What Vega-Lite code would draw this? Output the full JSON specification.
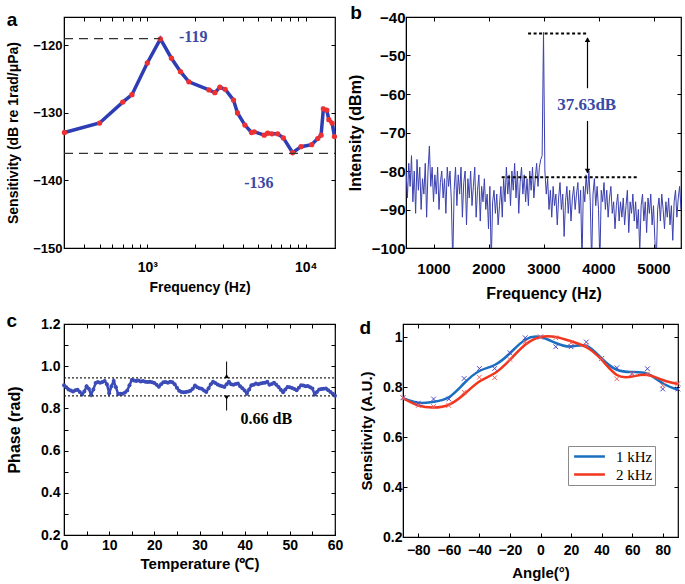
{
"$schema": "https://vega.github.io/schema/vega-lite/v6.json",
"padding": {"left": 5, "top": 3, "right": 2, "bottom": 0},
"background": "white",
"config": {
  "font": "Liberation Sans",
  "view": {"stroke": "black", "strokeWidth": 1.2},
  "axis": {"domainColor": "black", "tickColor": "black", "labelColor": "black", "titleColor": "black", "labelFontWeight": "bold", "titleFontWeight": "bold", "grid": false, "tickSize": -4, "labelFont": "Liberation Sans", "titleFont": "Liberation Sans", "labelOverlap": false, "labelFlush": false},
  "title": {"anchor": "start", "frame": "bounds", "fontSize": 19, "fontWeight": "bold", "font": "Liberation Sans", "color": "black"}
},
"datasets": {
  "sens": [
    {"f":300,"s":-132.9},{"f":500,"s":-131.5},{"f":700,"s":-128.4},{"f":800,"s":-127.3},{"f":1000,"s":-122.6},{"f":1210,"s":-119.05},{"f":1420,"s":-121.9},{"f":1620,"s":-123.9},{"f":1830,"s":-125.4},{"f":2450,"s":-126.6},{"f":2670,"s":-127.0},{"f":2870,"s":-126.2},{"f":3100,"s":-126.5},{"f":3500,"s":-128.1},{"f":3710,"s":-130.0},{"f":4130,"s":-131.8},{"f":4550,"s":-132.9},{"f":4730,"s":-132.8},{"f":5470,"s":-133.3},{"f":5750,"s":-133.0},{"f":6120,"s":-133.1},{"f":6650,"s":-133.1},{"f":7220,"s":-133.7},{"f":8270,"s":-135.9},{"f":9340,"s":-135.0},{"f":10900,"s":-134.7},{"f":11900,"s":-133.8},{"f":12500,"s":-133.3},{"f":12920,"s":-129.4},{"f":13580,"s":-129.6},{"f":13990,"s":-131.0},{"f":14670,"s":-131.5},{"f":15180,"s":-133.5}
  ],
  "sensRef": [
    {"f1":298,"f2":1210,"s":-119},{"f1":298,"f2":15300,"s":-136}
  ],
  "sensText": [
    {"f":1950,"s":-118.7,"t":"-119"},{"f":5060,"s":-140.4,"t":"-136"}
  ],
  "spec": [
    {"f":500,"v":-80},{"f":525,"v":-87},{"f":550,"v":-78},{"f":575,"v":-84},{"f":600,"v":-76},{"f":625,"v":-88},{"f":650,"v":-80},{"f":675,"v":-91},{"f":700,"v":-77},{"f":725,"v":-85},{"f":750,"v":-79},{"f":775,"v":-90},{"f":800,"v":-82},{"f":825,"v":-86},{"f":850,"v":-78},{"f":875,"v":-92},{"f":900,"v":-80},{"f":925,"v":-73.5},{"f":950,"v":-84},{"f":975,"v":-79},
    {"f":1000,"v":-88},{"f":1025,"v":-81},{"f":1050,"v":-86},{"f":1075,"v":-79},{"f":1100,"v":-90},{"f":1125,"v":-83},{"f":1150,"v":-80},{"f":1175,"v":-87},{"f":1200,"v":-82},{"f":1225,"v":-91},{"f":1250,"v":-79},{"f":1275,"v":-84},{"f":1300,"v":-80},{"f":1325,"v":-88},{"f":1350,"v":-104},{"f":1375,"v":-85},{"f":1400,"v":-79},{"f":1425,"v":-89},{"f":1450,"v":-81},{"f":1475,"v":-86},
    {"f":1500,"v":-79},{"f":1525,"v":-92},{"f":1550,"v":-83},{"f":1575,"v":-80},{"f":1600,"v":-94},{"f":1625,"v":-82},{"f":1650,"v":-87},{"f":1675,"v":-80},{"f":1700,"v":-89},{"f":1725,"v":-84},{"f":1750,"v":-79},{"f":1775,"v":-92},{"f":1800,"v":-85},{"f":1825,"v":-81},{"f":1850,"v":-93},{"f":1875,"v":-84},{"f":1900,"v":-88},{"f":1925,"v":-82},{"f":1950,"v":-90},{"f":1975,"v":-86},
    {"f":2000,"v":-95},{"f":2025,"v":-84},{"f":2050,"v":-104},{"f":2075,"v":-88},{"f":2100,"v":-85},{"f":2125,"v":-91},{"f":2150,"v":-86},{"f":2175,"v":-94},{"f":2200,"v":-89},{"f":2225,"v":-84},{"f":2250,"v":-92},{"f":2275,"v":-82},{"f":2300,"v":-88},{"f":2325,"v":-79},{"f":2350,"v":-86},{"f":2375,"v":-81},{"f":2400,"v":-89},{"f":2425,"v":-80},{"f":2450,"v":-85},{"f":2475,"v":-78},
    {"f":2500,"v":-87},{"f":2525,"v":-80},{"f":2550,"v":-91},{"f":2575,"v":-83},{"f":2600,"v":-79},{"f":2625,"v":-86},{"f":2650,"v":-81},{"f":2675,"v":-88},{"f":2700,"v":-82},{"f":2725,"v":-89},{"f":2750,"v":-80},{"f":2775,"v":-85},{"f":2800,"v":-79},{"f":2825,"v":-87},{"f":2850,"v":-82},{"f":2875,"v":-78},{"f":2900,"v":-84},{"f":2925,"v":-79},{"f":2950,"v":-77},{"f":2975,"v":-76},
    {"f":3000,"v":-44},{"f":3025,"v":-80},{"f":3050,"v":-86},{"f":3075,"v":-82},{"f":3100,"v":-90},{"f":3125,"v":-85},{"f":3150,"v":-92},{"f":3175,"v":-84},{"f":3200,"v":-89},{"f":3225,"v":-86},{"f":3250,"v":-94},{"f":3275,"v":-87},{"f":3300,"v":-83},{"f":3325,"v":-90},{"f":3350,"v":-86},{"f":3375,"v":-97},{"f":3400,"v":-88},{"f":3425,"v":-84},{"f":3450,"v":-91},{"f":3475,"v":-85},
    {"f":3500,"v":-93},{"f":3525,"v":-87},{"f":3550,"v":-84},{"f":3575,"v":-90},{"f":3600,"v":-86},{"f":3625,"v":-83},{"f":3650,"v":-91},{"f":3675,"v":-85},{"f":3700,"v":-104},{"f":3725,"v":-84},{"f":3750,"v":-88},{"f":3775,"v":-81},{"f":3800,"v":-86},{"f":3825,"v":-80},{"f":3850,"v":-88},{"f":3875,"v":-104},{"f":3900,"v":-86},{"f":3925,"v":-82},{"f":3950,"v":-89},{"f":3975,"v":-84},
    {"f":4000,"v":-90},{"f":4025,"v":-104},{"f":4050,"v":-85},{"f":4075,"v":-88},{"f":4100,"v":-83},{"f":4125,"v":-90},{"f":4150,"v":-85},{"f":4175,"v":-92},{"f":4200,"v":-87},{"f":4225,"v":-84},{"f":4250,"v":-91},{"f":4275,"v":-88},{"f":4300,"v":-95},{"f":4325,"v":-89},{"f":4350,"v":-86},{"f":4375,"v":-93},{"f":4400,"v":-88},{"f":4425,"v":-92},{"f":4450,"v":-87},{"f":4475,"v":-94},
    {"f":4500,"v":-89},{"f":4525,"v":-85},{"f":4550,"v":-96},{"f":4575,"v":-88},{"f":4600,"v":-91},{"f":4625,"v":-86},{"f":4650,"v":-93},{"f":4675,"v":-88},{"f":4700,"v":-95},{"f":4725,"v":-90},{"f":4750,"v":-101},{"f":4775,"v":-89},{"f":4800,"v":-86},{"f":4825,"v":-93},{"f":4850,"v":-88},{"f":4875,"v":-96},{"f":4900,"v":-87},{"f":4925,"v":-91},{"f":4950,"v":-86},{"f":4975,"v":-94},
    {"f":5000,"v":-89},{"f":5025,"v":-98},{"f":5050,"v":-104},{"f":5075,"v":-90},{"f":5100,"v":-87},{"f":5125,"v":-93},{"f":5150,"v":-86},{"f":5175,"v":-90},{"f":5200,"v":-95},{"f":5225,"v":-88},{"f":5250,"v":-92},{"f":5275,"v":-87},{"f":5300,"v":-94},{"f":5325,"v":-89},{"f":5350,"v":-98},{"f":5375,"v":-88},{"f":5400,"v":-85},{"f":5425,"v":-92},{"f":5450,"v":-87},{"f":5475,"v":-84},{"f":5500,"v":-90}
  ],
  "specRef": [
    {"f1":2720,"f2":3820,"v":-44.3},{"f1":2240,"f2":4700,"v":-81.6}
  ],
  "specArrow": [
    {"f":3800,"v1":-45.5,"v2":-58.5},{"f":3800,"v1":-67,"v2":-80.5}
  ],
  "specHead": [
    {"f":3800,"v":-45.9,"end":"top"},{"f":3800,"v":-80.0,"end":"bottom"}
  ],
  "specText": [
    {"f":3785,"v":-62.8,"t":"37.63dB"}
  ],
  "phase": [
    {"t":0,"p":0.910},{"t":0.5,"p":0.900},{"t":1,"p":0.890},{"t":1.5,"p":0.885},{"t":2,"p":0.880},{"t":2.5,"p":0.886},{"t":3,"p":0.888},{"t":3.5,"p":0.878},{"t":4,"p":0.866},{"t":4.5,"p":0.880},
    {"t":5,"p":0.905},{"t":5.5,"p":0.893},{"t":6,"p":0.865},{"t":6.5,"p":0.890},{"t":7,"p":0.920},{"t":7.5,"p":0.925},{"t":8,"p":0.922},{"t":8.5,"p":0.925},{"t":9,"p":0.930},{"t":9.5,"p":0.915},
    {"t":10,"p":0.872},{"t":10.5,"p":0.905},{"t":11,"p":0.930},{"t":11.5,"p":0.900},{"t":12,"p":0.868},{"t":12.5,"p":0.870},{"t":13,"p":0.870},{"t":13.5,"p":0.875},{"t":14,"p":0.885},{"t":14.5,"p":0.910},
    {"t":15,"p":0.935},{"t":15.5,"p":0.932},{"t":16,"p":0.930},{"t":16.5,"p":0.932},{"t":17,"p":0.928},{"t":17.5,"p":0.930},{"t":18,"p":0.926},{"t":18.5,"p":0.925},{"t":19,"p":0.926},{"t":19.5,"p":0.924},
    {"t":20,"p":0.920},{"t":20.5,"p":0.912},{"t":21,"p":0.903},{"t":21.5,"p":0.915},{"t":22,"p":0.924},{"t":22.5,"p":0.925},{"t":23,"p":0.922},{"t":23.5,"p":0.926},{"t":24,"p":0.924},{"t":24.5,"p":0.915},
    {"t":25,"p":0.898},{"t":25.5,"p":0.884},{"t":26,"p":0.878},{"t":26.5,"p":0.877},{"t":27,"p":0.878},{"t":27.5,"p":0.880},{"t":28,"p":0.884},{"t":28.5,"p":0.893},{"t":29,"p":0.908},{"t":29.5,"p":0.900},
    {"t":30,"p":0.896},{"t":30.5,"p":0.893},{"t":31,"p":0.885},{"t":31.5,"p":0.878},{"t":32,"p":0.895},{"t":32.5,"p":0.915},{"t":33,"p":0.926},{"t":33.5,"p":0.920},{"t":34,"p":0.913},{"t":34.5,"p":0.908},
    {"t":35,"p":0.905},{"t":35.5,"p":0.902},{"t":36,"p":0.915},{"t":36.5,"p":0.926},{"t":37,"p":0.915},{"t":37.5,"p":0.912},{"t":38,"p":0.916},{"t":38.5,"p":0.918},{"t":39,"p":0.905},{"t":39.5,"p":0.895},
    {"t":40,"p":0.885},{"t":40.5,"p":0.870},{"t":41,"p":0.890},{"t":41.5,"p":0.910},{"t":42,"p":0.912},{"t":42.5,"p":0.918},{"t":43,"p":0.915},{"t":43.5,"p":0.918},{"t":44,"p":0.920},{"t":44.5,"p":0.922},
    {"t":45,"p":0.926},{"t":45.5,"p":0.912},{"t":46,"p":0.916},{"t":46.5,"p":0.922},{"t":47,"p":0.912},{"t":47.5,"p":0.902},{"t":48,"p":0.888},{"t":48.5,"p":0.876},{"t":49,"p":0.890},{"t":49.5,"p":0.902},
    {"t":50,"p":0.900},{"t":50.5,"p":0.897},{"t":51,"p":0.892},{"t":51.5,"p":0.886},{"t":52,"p":0.898},{"t":52.5,"p":0.910},{"t":53,"p":0.908},{"t":53.5,"p":0.905},{"t":54,"p":0.906},{"t":54.5,"p":0.900},
    {"t":55,"p":0.894},{"t":55.5,"p":0.866},{"t":56,"p":0.878},{"t":56.5,"p":0.890},{"t":57,"p":0.892},{"t":57.5,"p":0.893},{"t":58,"p":0.894},{"t":58.5,"p":0.886},{"t":59,"p":0.878},{"t":59.5,"p":0.870},{"t":60,"p":0.860}
  ],
  "phaseRef": [
    {"t1":0,"t2":60,"p":0.945},{"t1":0,"t2":60,"p":0.859}
  ],
  "phaseArrow": [
    {"t":36,"p1":1.022,"p2":0.955},{"t":36,"p1":0.79,"p2":0.85}
  ],
  "phaseHead": [
    {"t":36,"p":0.953,"end":"top"},{"t":36,"p":0.851,"end":"bottom"}
  ],
  "phaseText": [
    {"t":44.8,"p":0.751,"s":"0.66 dB"}
  ],
  "curve": [
    {"a":-90,"v":0.755,"k":"1 kHz"},{"a":-80,"v":0.737,"k":"1 kHz"},{"a":-70,"v":0.741,"k":"1 kHz"},{"a":-60,"v":0.759,"k":"1 kHz"},{"a":-50,"v":0.815,"k":"1 kHz"},{"a":-40,"v":0.864,"k":"1 kHz"},{"a":-30,"v":0.888,"k":"1 kHz"},{"a":-20,"v":0.935,"k":"1 kHz"},{"a":-10,"v":0.989,"k":"1 kHz"},{"a":0,"v":1.0,"k":"1 kHz"},{"a":10,"v":0.976,"k":"1 kHz"},{"a":20,"v":0.962,"k":"1 kHz"},{"a":30,"v":0.965,"k":"1 kHz"},{"a":40,"v":0.914,"k":"1 kHz"},{"a":50,"v":0.869,"k":"1 kHz"},{"a":60,"v":0.86,"k":"1 kHz"},{"a":70,"v":0.853,"k":"1 kHz"},{"a":80,"v":0.815,"k":"1 kHz"},{"a":90,"v":0.788,"k":"1 kHz"},
    {"a":-90,"v":0.755,"k":"2 kHz"},{"a":-80,"v":0.726,"k":"2 kHz"},{"a":-70,"v":0.718,"k":"2 kHz"},{"a":-60,"v":0.729,"k":"2 kHz"},{"a":-50,"v":0.771,"k":"2 kHz"},{"a":-40,"v":0.822,"k":"2 kHz"},{"a":-30,"v":0.855,"k":"2 kHz"},{"a":-20,"v":0.909,"k":"2 kHz"},{"a":-10,"v":0.969,"k":"2 kHz"},{"a":0,"v":1.0,"k":"2 kHz"},{"a":10,"v":1.0,"k":"2 kHz"},{"a":20,"v":0.983,"k":"2 kHz"},{"a":30,"v":0.959,"k":"2 kHz"},{"a":40,"v":0.909,"k":"2 kHz"},{"a":50,"v":0.848,"k":"2 kHz"},{"a":60,"v":0.842,"k":"2 kHz"},{"a":70,"v":0.848,"k":"2 kHz"},{"a":80,"v":0.828,"k":"2 kHz"},{"a":90,"v":0.812,"k":"2 kHz"}
  ],
  "cross": [
    {"a":-90,"v":0.757,"k":"1 kHz"},{"a":-80,"v":0.735,"k":"1 kHz"},{"a":-70,"v":0.752,"k":"1 kHz"},{"a":-60,"v":0.752,"k":"1 kHz"},{"a":-50,"v":0.834,"k":"1 kHz"},{"a":-40,"v":0.874,"k":"1 kHz"},{"a":-30,"v":0.874,"k":"1 kHz"},{"a":-20,"v":0.937,"k":"1 kHz"},{"a":-10,"v":0.997,"k":"1 kHz"},{"a":0,"v":1.0,"k":"1 kHz"},{"a":10,"v":0.961,"k":"1 kHz"},{"a":20,"v":0.961,"k":"1 kHz"},{"a":30,"v":0.98,"k":"1 kHz"},{"a":40,"v":0.914,"k":"1 kHz"},{"a":50,"v":0.877,"k":"1 kHz"},{"a":60,"v":0.854,"k":"1 kHz"},{"a":70,"v":0.873,"k":"1 kHz"},{"a":80,"v":0.792,"k":"1 kHz"},{"a":90,"v":0.792,"k":"1 kHz"},
    {"a":-90,"v":0.757,"k":"2 kHz"},{"a":-80,"v":0.726,"k":"2 kHz"},{"a":-70,"v":0.722,"k":"2 kHz"},{"a":-60,"v":0.726,"k":"2 kHz"},{"a":-50,"v":0.779,"k":"2 kHz"},{"a":-40,"v":0.839,"k":"2 kHz"},{"a":-30,"v":0.837,"k":"2 kHz"},{"a":-20,"v":0.91,"k":"2 kHz"},{"a":-10,"v":0.98,"k":"2 kHz"},{"a":0,"v":1.0,"k":"2 kHz"},{"a":10,"v":0.997,"k":"2 kHz"},{"a":20,"v":0.977,"k":"2 kHz"},{"a":30,"v":0.967,"k":"2 kHz"},{"a":40,"v":0.914,"k":"2 kHz"},{"a":50,"v":0.833,"k":"2 kHz"},{"a":60,"v":0.854,"k":"2 kHz"},{"a":70,"v":0.852,"k":"2 kHz"},{"a":80,"v":0.806,"k":"2 kHz"},{"a":90,"v":0.814,"k":"2 kHz"}
  ]
},
"spacing": 9,
"resolve": {"legend": {"color": "independent", "stroke": "independent", "shape": "independent"}},
"vconcat": [
 {"hconcat": [
  {
   "width": 271, "height": 231,
   "title": {"text": "a", "offset": -13},
   "resolve": {"axis": {"x": "independent", "y": "independent"}},
   "layer": [
    {"data": {"name": "sens"},
     "mark": {"type": "line", "color": "#2e3db3", "strokeWidth": 3.5},
     "encoding": {
      "x": {"field": "f", "type": "quantitative", "scale": {"type": "log", "domain": [298, 15300], "nice": false},
            "axis": {"title": "Frequency (Hz)", "values": [400,500,600,700,800,900,1000,2000,3000,4000,5000,6000,7000,8000,9000,10000], "labelExpr": "datum.value == 1000 ? '10³' : (datum.value == 10000 ? '10⁴' : '')", "labelFontSize": 14, "titleFontSize": 14, "labelPadding": 16, "titlePadding": 6}},
      "y": {"field": "s", "type": "quantitative", "scale": {"domain": [-150, -115.8], "nice": false, "zero": false},
            "axis": {"title": "Sensitivity (dB re 1rad/μPa)", "values": [-150,-140,-130,-120], "labelFontSize": 13, "titleFontSize": 14, "labelPadding": 6, "titlePadding": 12}}
     }},
    {"data": {"name": "sens"},
     "mark": {"type": "point", "filled": true, "color": "#ee3030", "size": 28, "opacity": 1},
     "encoding": {
      "x": {"field": "f", "type": "quantitative", "axis": {"orient": "top", "labels": false, "title": null, "domain": false, "values": [400,500,600,700,800,900,1000,2000,3000,4000,5000,6000,7000,8000,9000,10000]}},
      "y": {"field": "s", "type": "quantitative", "axis": {"orient": "right", "labels": false, "title": null, "domain": false, "values": [-150,-140,-130,-120]}}
     }},
    {"data": {"name": "sensRef"},
     "mark": {"type": "rule", "color": "#333333", "strokeWidth": 1.3, "strokeDash": [9, 6]},
     "encoding": {
      "x": {"field": "f1", "type": "quantitative", "axis": null},
      "x2": {"field": "f2"},
      "y": {"field": "s", "type": "quantitative", "axis": null}
     }},
    {"data": {"name": "sensText"},
     "mark": {"type": "text", "font": "Liberation Serif", "fontWeight": "bold", "fontSize": 16, "color": "#3a4aa5"},
     "encoding": {
      "x": {"field": "f", "type": "quantitative", "axis": null},
      "y": {"field": "s", "type": "quantitative", "axis": null},
      "text": {"field": "t"}
     }}
   ]
  },
  {
   "width": 275, "height": 231,
   "title": {"text": "b", "offset": -13, "dx": 3},
   "resolve": {"axis": {"x": "independent", "y": "independent"}},
   "layer": [
    {"data": {"name": "spec"},
     "mark": {"type": "line", "color": "#3b40ad", "strokeWidth": 1, "clip": true},
     "encoding": {
      "x": {"field": "f", "type": "quantitative", "scale": {"domain": [500, 5500], "nice": false},
            "axis": {"title": "Frequency (Hz)", "values": [1000,2000,3000,4000,5000], "format": "d", "labelFontSize": 15, "titleFontSize": 16, "labelPadding": 17, "titlePadding": 9}},
      "y": {"field": "v", "type": "quantitative", "scale": {"domain": [-100, -40], "nice": false, "zero": false},
            "axis": {"title": "Intensity (dBm)", "values": [-100,-90,-80,-70,-60,-50,-40], "labelFontSize": 15, "titleFontSize": 16, "labelPadding": 5, "titlePadding": 8}}
     }},
    {"data": {"name": "specRef"},
     "mark": {"type": "rule", "color": "black", "strokeWidth": 2, "strokeDash": [3, 2.5]},
     "encoding": {
      "x": {"field": "f1", "type": "quantitative", "axis": {"orient": "top", "labels": false, "title": null, "domain": false, "values": [1000,2000,3000,4000,5000]}},
      "x2": {"field": "f2"},
      "y": {"field": "v", "type": "quantitative", "axis": {"orient": "right", "labels": false, "title": null, "domain": false, "values": [-100,-90,-80,-70,-60,-50,-40]}}
     }},
    {"data": {"name": "specArrow"},
     "mark": {"type": "rule", "color": "black", "strokeWidth": 1.2},
     "encoding": {
      "x": {"field": "f", "type": "quantitative", "axis": null},
      "y": {"field": "v1", "type": "quantitative", "axis": null},
      "y2": {"field": "v2"}
     }},
    {"data": {"name": "specHead"},
     "mark": {"type": "point", "filled": true, "color": "black", "size": 30, "opacity": 1},
     "encoding": {
      "x": {"field": "f", "type": "quantitative", "axis": null},
      "y": {"field": "v", "type": "quantitative", "axis": null},
      "shape": {"field": "end", "type": "nominal", "scale": {"domain": ["top", "bottom"], "range": ["triangle-up", "triangle-down"]}, "legend": null}
     }},
    {"data": {"name": "specText"},
     "mark": {"type": "text", "font": "Liberation Serif", "fontWeight": "bold", "fontSize": 17, "color": "#3a4aa5"},
     "encoding": {
      "x": {"field": "f", "type": "quantitative", "axis": null},
      "y": {"field": "v", "type": "quantitative", "axis": null},
      "text": {"field": "t"}
     }}
   ]
  }
 ], "spacing": 3},
 {"hconcat": [
  {
   "width": 271, "height": 211,
   "title": {"text": "c", "offset": -14},
   "resolve": {"axis": {"x": "independent", "y": "independent"}},
   "layer": [
    {"data": {"name": "phase"},
     "mark": {"type": "line", "color": "#3b4bb8", "strokeWidth": 2.5, "point": {"filled": true, "size": 16, "color": "#3b4bb8"}},
     "encoding": {
      "x": {"field": "t", "type": "quantitative", "scale": {"domain": [0, 60], "nice": false},
            "axis": {"title": "Temperature (℃)", "values": [0,5,10,15,20,25,30,35,40,45,50,55,60], "labelExpr": "datum.value % 10 == 0 ? datum.label : ''", "labelFontSize": 14, "titleFontSize": 15, "labelPadding": 7, "titlePadding": 4}},
      "y": {"field": "p", "type": "quantitative", "scale": {"domain": [0.2, 1.2], "nice": false, "zero": false},
            "axis": {"title": "Phase (rad)", "values": [0.2,0.3,0.4,0.5,0.6,0.7,0.8,0.9,1.0,1.1,1.2], "labelExpr": "round(datum.value*10) % 2 == 0 ? format(datum.value, '.1f') : ''", "labelFontSize": 14, "titleFontSize": 16, "labelPadding": 8, "titlePadding": 18}}
     }},
    {"data": {"name": "phaseRef"},
     "mark": {"type": "rule", "color": "#222222", "strokeWidth": 1.2, "strokeDash": [2, 2]},
     "encoding": {
      "x": {"field": "t1", "type": "quantitative", "axis": {"orient": "top", "labels": false, "title": null, "domain": false, "values": [0,5,10,15,20,25,30,35,40,45,50,55,60]}},
      "x2": {"field": "t2"},
      "y": {"field": "p", "type": "quantitative", "axis": {"orient": "right", "labels": false, "title": null, "domain": false, "values": [0.2,0.3,0.4,0.5,0.6,0.7,0.8,0.9,1.0,1.1,1.2]}}
     }},
    {"data": {"name": "phaseArrow"},
     "mark": {"type": "rule", "color": "black", "strokeWidth": 1},
     "encoding": {
      "x": {"field": "t", "type": "quantitative", "axis": null},
      "y": {"field": "p1", "type": "quantitative", "axis": null},
      "y2": {"field": "p2"}
     }},
    {"data": {"name": "phaseHead"},
     "mark": {"type": "point", "filled": true, "color": "black", "size": 25, "opacity": 1},
     "encoding": {
      "x": {"field": "t", "type": "quantitative", "axis": null},
      "y": {"field": "p", "type": "quantitative", "axis": null},
      "shape": {"field": "end", "type": "nominal", "scale": {"domain": ["top", "bottom"], "range": ["triangle-down", "triangle-up"]}, "legend": null}
     }},
    {"data": {"name": "phaseText"},
     "mark": {"type": "text", "font": "Liberation Serif", "fontWeight": "bold", "fontSize": 16, "color": "black"},
     "encoding": {
      "x": {"field": "t", "type": "quantitative", "axis": null},
      "y": {"field": "p", "type": "quantitative", "axis": null},
      "text": {"field": "s"}
     }}
   ]
  },
  {
   "width": 275, "height": 213,
   "title": {"text": "d", "offset": -14},
   "resolve": {"axis": {"x": "independent", "y": "independent"}},
   "layer": [
    {"data": {"name": "curve"},
     "mark": {"type": "line", "strokeWidth": 2.5, "interpolate": "natural"},
     "encoding": {
      "x": {"field": "a", "type": "quantitative", "scale": {"domain": [-90, 90], "nice": false},
            "axis": {"title": "Angle(°)", "values": [-80,-60,-40,-20,0,20,40,60,80], "labelFontSize": 14, "titleFontSize": 15, "labelPadding": 10, "titlePadding": 8}},
      "y": {"field": "v", "type": "quantitative", "scale": {"domain": [0.2, 1.052], "nice": false, "zero": false},
            "axis": {"title": "Sensitivity (A.U.)", "values": [0.2,0.4,0.6,0.8,1], "format": "~g", "labelFontSize": 14, "titleFontSize": 15, "labelPadding": 5, "titlePadding": 8}},
      "color": {"field": "k", "type": "nominal", "scale": {"domain": ["1 kHz", "2 kHz"], "range": ["#1a6fc0", "#f2361e"]},
                "legend": {"orient": "none", "legendX": 165, "legendY": 122, "title": null, "strokeColor": "#8a8a8a", "fillColor": "white", "padding": 2, "symbolType": "M-2.2,0L2.2,0", "symbolSize": 196, "symbolStrokeWidth": 2.5, "symbolOffset": 11, "labelFont": "Liberation Serif", "labelFontSize": 15, "labelFontWeight": "normal", "labelColor": "black", "rowPadding": 1, "labelOffset": 18}}
     }},
    {"data": {"name": "cross"},
     "mark": {"type": "point", "shape": "M-1,-1L1,1M-1,1L1,-1", "filled": false, "size": 22, "strokeWidth": 1, "opacity": 1},
     "encoding": {
      "x": {"field": "a", "type": "quantitative", "axis": {"orient": "top", "labels": false, "title": null, "domain": false, "values": [-80,-60,-40,-20,0,20,40,60,80]}},
      "y": {"field": "v", "type": "quantitative", "axis": {"orient": "right", "labels": false, "title": null, "domain": false, "values": [0.2,0.4,0.6,0.8,1]}},
      "stroke": {"field": "k", "type": "nominal", "scale": {"domain": ["1 kHz", "2 kHz"], "range": ["#4a4ac8", "#f06060"]}, "legend": null}
     }}
   ]
  }
 ], "spacing": 14, "resolve": {"legend": {"color": "independent", "stroke": "independent", "shape": "independent"}}}
]
}
